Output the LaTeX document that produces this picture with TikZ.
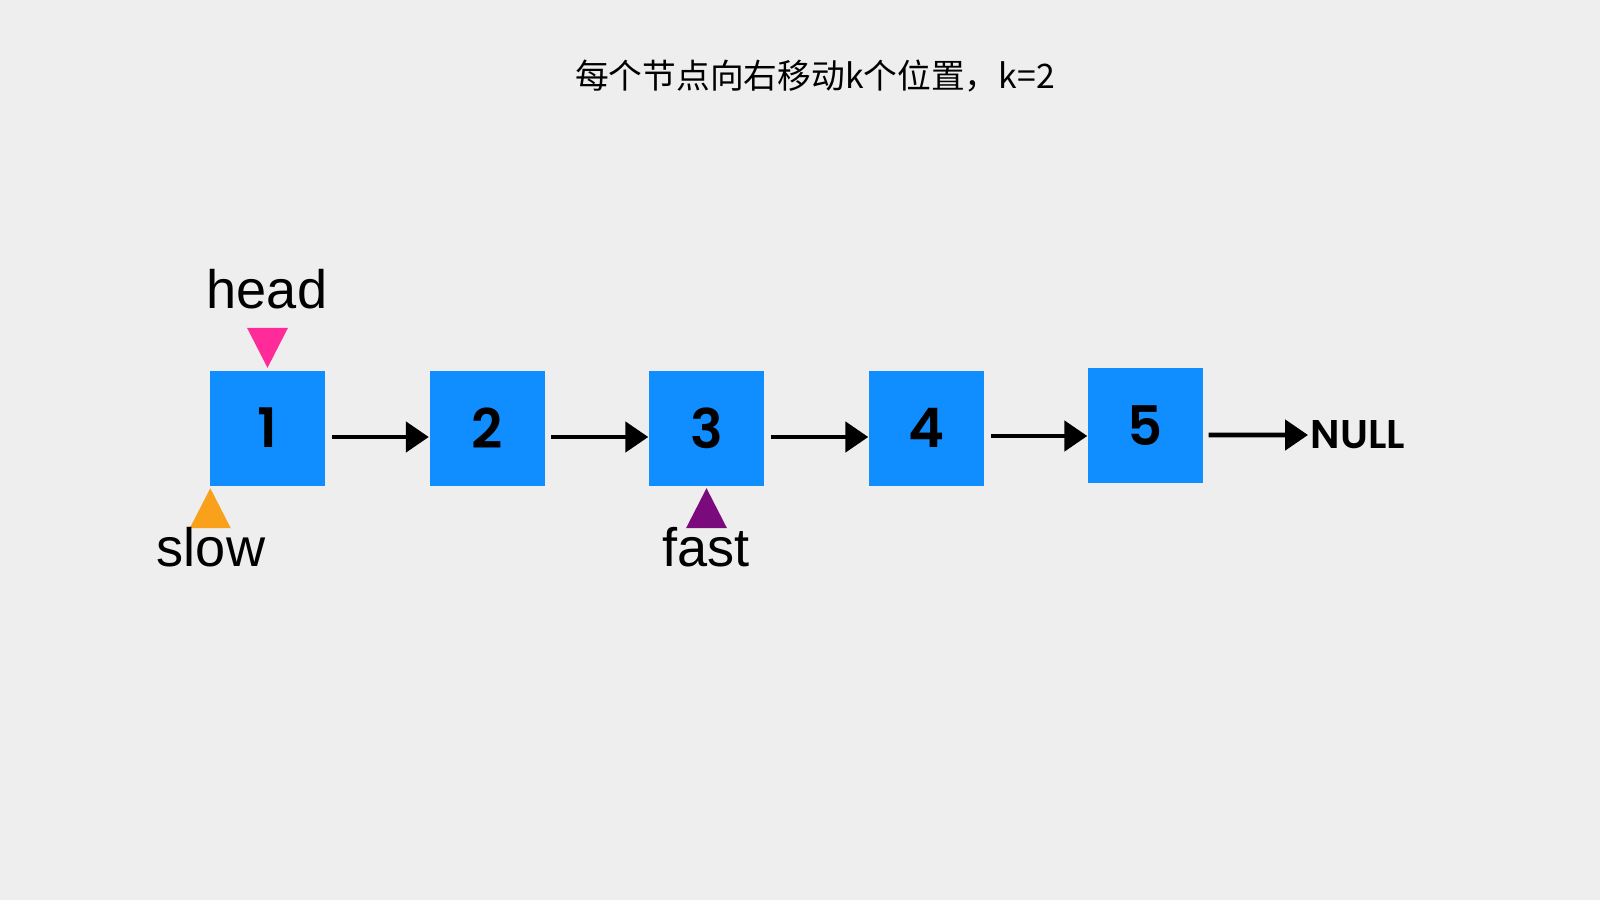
\documentclass[tikz,border=0pt]{standalone}
\usepackage{fontspec}
\setmainfont{Liberation Sans}
\newfontfamily\cjk{Noto Sans CJK SC}
\newfontfamily\geo{Poppins SemiBold}
\usepackage{xcolor}
\definecolor{Canvas Grey}{HTML}{EEEEEE}
\definecolor{Azure}{HTML}{108EFF}
\definecolor{Hot Pink}{HTML}{FF2B98}
\definecolor{Amber}{HTML}{F9A11B}
\definecolor{Plum}{HTML}{7B0A7D}
\colorlet{cBack}{Canvas Grey}
\colorlet{cBlue}{Azure}
\colorlet{cPink}{Hot Pink}
\colorlet{cOrange}{Amber}
\colorlet{cPurple}{Plum}
\usepackage{tikz}
\usetikzlibrary{calc, positioning, arrows.meta}
\tikzset{
	>={Triangle[length=0.23cm, width=0.3cm]},
	item/.style={
		fill=cBlue,
		minimum size=1.15cm,
		inner sep=0pt,
		font=\geo\fontsize{15.5pt}{18pt}\selectfont
	},
	link/.style={
		->,
		line width=1.4pt
	},
	pointer/.style={
		font=\fontsize{15.4pt}{18pt}\selectfont,
		inner sep=0pt,
		anchor=base
	}
}

\begin{document}
\begin{tikzpicture}
		\fill[cBack] (0,0) rectangle (16,9);
		\useasboundingbox (0,0) rectangle (16,9);

		\node[font=\cjk\fontsize{9.6pt}{12pt}\selectfont] (title) at (8.15,8.24) {每个节点向右移动k个位置，k=2};

		\node[item] at (2.675,4.72) (1) {1};
		\node[item] at (4.87,4.72) (2) {2};
		\node[item] at (7.065,4.72) (3) {3};
		\node[item] at (9.265,4.72) (4) {4};
		\node[item] at (11.455,4.745) (5) {5};
		\node[font=\geo\fontsize{11.4pt}{13pt}\selectfont, anchor=west, inner sep=0pt] at (13.1,4.65) (null) {NULL};

		\draw[link] ([xshift=.06cm,yshift=-.09cm]1.east) -- ([yshift=-.09cm]2.west);
		\draw[link] ([xshift=.06cm,yshift=-.09cm]2.east) -- ([yshift=-.09cm]3.west);
		\draw[link] ([xshift=.06cm,yshift=-.09cm]3.east) -- ([yshift=-.09cm]4.west);
		\draw[link] ([xshift=.06cm,yshift=-.08cm]4.east) -- ([yshift=-.08cm]4.east -| 5.west);
		\draw[link] ([xshift=.05cm,yshift=-.095cm]5.east) -- ([xshift=-.02cm]null.west);

		\fill[cPink] ([yshift=.02cm]1.north) -- ++(-.205,.4) -- ++(.41,0) -- cycle;
		\node[pointer] (head) at (2.67,5.92) {head};
		\fill[cOrange] ([shift={(.01,-.02)}]1.south west) -- ++(-.205,-.4) -- ++(.41,0) -- cycle;
		\node[pointer] (slow) at (2.11,3.34) {slow};
		\fill[cPurple] ([yshift=-.02cm]3.south) -- ++(-.205,-.4) -- ++(.41,0) -- cycle;
		\node[pointer] (fast) at (7.06,3.34) {fast};
	\end{tikzpicture}
\end{document}
